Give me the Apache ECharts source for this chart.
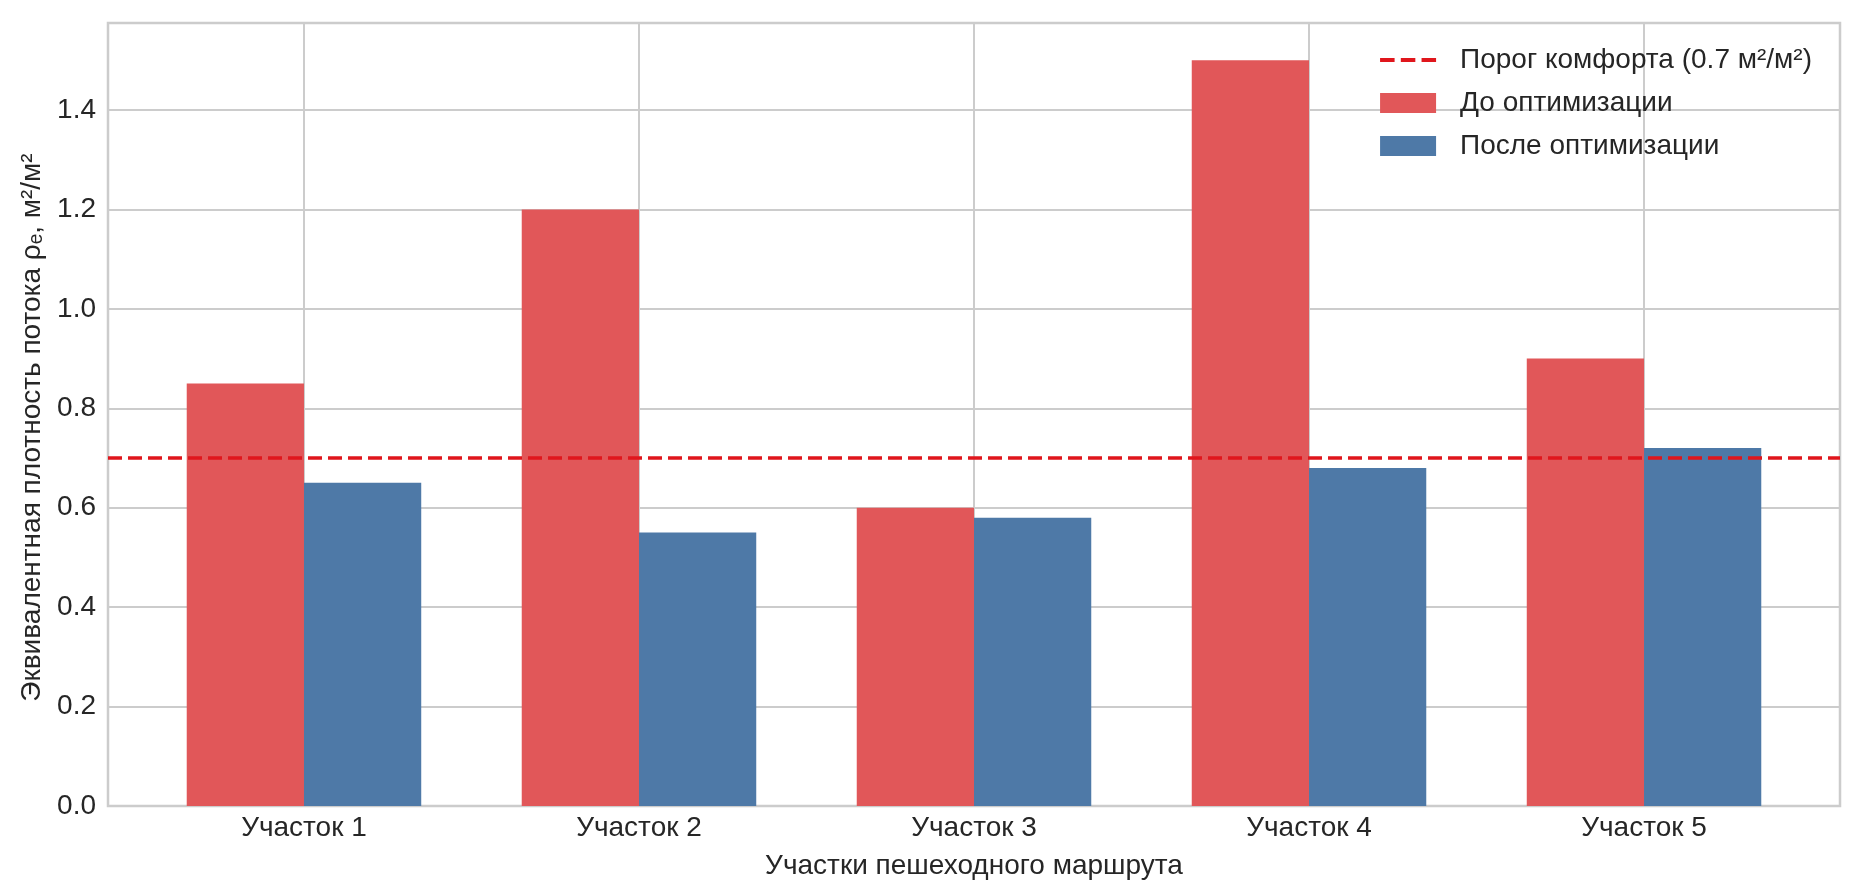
<!DOCTYPE html>
<html>
<head>
<meta charset="utf-8">
<script src="https://cdn.jsdelivr.net/npm/echarts@6/dist/echarts.min.js"></script>
<style>
html,body{margin:0;padding:0;background:#fff;}
#chart{width:1861px;height:896px;}
</style>
</head>
<body>
<div id="chart"></div>
<script>
const categories = ['Участок 1', 'Участок 2', 'Участок 3', 'Участок 4', 'Участок 5'];
const beforeValues = [0.85, 1.2, 0.6, 1.5, 0.9];
const afterValues = [0.65, 0.55, 0.58, 0.68, 0.72];
const threshold = 0.7;
const yTicks = [0, 0.2, 0.4, 0.6, 0.8, 1.0, 1.2, 1.4];
const xPositions = [0, 1, 2, 3, 4];
const seriesNames = ['Порог комфорта (0.7 м²/м²)', 'До оптимизации', 'После оптимизации'];
const axisTitles = { x: 'Участки пешеходного маршрута', y: 'Эквивалентная плотность потока ρₑ, м²/м²' };

const FONT = "'Liberation Sans', Arial, sans-serif";
const TXT = '#262626';
const GRID = '#cccccc';
const RED = '#e15759';
const BLUE = '#4e79a7';
const DASH = '#e0161c';
const DASH_ICON = 'path://M0,0h14v4h-14z M20,0h14v4h-14z M40,0h14v4h-14z';

const chart = echarts.init(document.getElementById('chart'), null, { renderer: 'canvas' });
chart.setOption({
  backgroundColor: '#ffffff',
  animation: false,
  textStyle: { fontFamily: FONT, color: TXT },
  grid: {
    left: 108, right: 21, top: 23, bottom: 90,
    show: true, borderColor: GRID, borderWidth: 2.5, backgroundColor: 'transparent'
  },
  legend: {
    orient: 'vertical',
    right: 49, top: 45,
    padding: 0,
    itemWidth: 56, itemHeight: 20, itemGap: 13,
    align: 'left',
    data: [
      { name: seriesNames[0], icon: DASH_ICON, itemStyle: { color: DASH } },
      { name: seriesNames[1], icon: 'rect' },
      { name: seriesNames[2], icon: 'rect' }
    ],
    textStyle: { fontFamily: FONT, fontSize: 28, color: TXT, lineHeight: 30, padding: [0, 0, 0, 19] }
  },
  xAxis: {
    type: 'value',
    min: -0.585, max: 4.585,
    axisLine: { show: false },
    axisTick: { show: false, customValues: xPositions },
    axisLabel: {
      customValues: xPositions,
      formatter: v => categories[Math.round(v)] || '',
      fontFamily: FONT, fontSize: 28, color: TXT, margin: 8
    },
    splitLine: { show: true, lineStyle: { color: GRID, width: 2 } },
    name: axisTitles.x,
    nameLocation: 'middle', nameGap: 46,
    nameTextStyle: { fontFamily: FONT, fontSize: 28, color: TXT }
  },
  yAxis: {
    type: 'value',
    min: 0, max: 1.575,
    axisLine: { show: false },
    axisTick: { show: false, customValues: yTicks },
    axisLabel: {
      customValues: yTicks,
      formatter: v => v.toFixed(1),
      fontFamily: FONT, fontSize: 28, color: TXT, margin: 12
    },
    splitLine: { show: true, lineStyle: { color: GRID, width: 2 } },
    name: axisTitles.y,
    nameLocation: 'middle', nameGap: 62,
    nameTextStyle: { fontFamily: FONT, fontSize: 28, color: TXT, padding: [0, 26, 0, 0] }
  },
  series: [
    {
      name: seriesNames[0],
      type: 'line',
      data: [],
      showSymbol: false,
      symbol: 'none',
      color: DASH,
      lineStyle: { color: DASH, width: 4, type: [14, 6] },
      z: 10,
      markLine: {
        silent: true,
        symbol: 'none',
        label: { show: false },
        lineStyle: { color: DASH, width: 3.5, type: [14, 6] },
        data: [{ yAxis: threshold }],
        z: 10
      }
    },
    {
      name: seriesNames[1],
      type: 'bar',
      data: xPositions.map((x, i) => [x, beforeValues[i]]),
      barWidth: '35%',
      barGap: '0%',
      itemStyle: { color: RED },
      z: 3
    },
    {
      name: seriesNames[2],
      type: 'bar',
      data: xPositions.map((x, i) => [x, afterValues[i]]),
      barWidth: '35%',
      barGap: '0%',
      itemStyle: { color: BLUE },
      z: 3
    }
  ]
});
</script>
</body>
</html>
